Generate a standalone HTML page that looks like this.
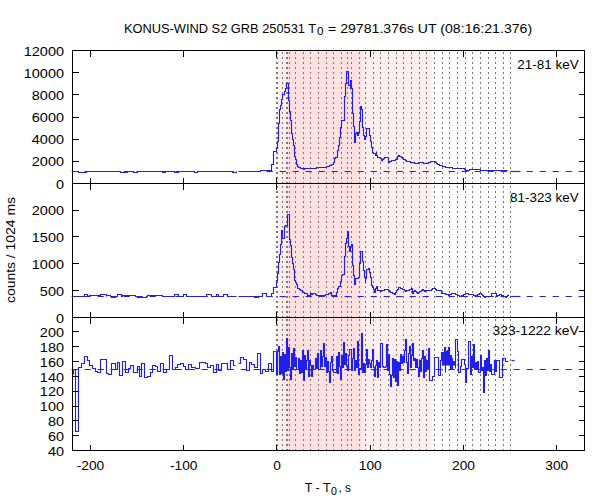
<!DOCTYPE html><html><head><meta charset="utf-8"><style>html,body{margin:0;padding:0;background:#fff;}svg{display:block}text{font-family:"Liberation Sans",sans-serif;fill:#000}</style></head><body>
<svg width="600" height="500" viewBox="0 0 600 500">
<rect x="0" y="0" width="600" height="500" fill="#fff"/>
<rect x="278" y="51" width="154" height="399" fill="#ffeeee"/>
<rect x="287" y="51" width="75" height="399" fill="#ffe0e0"/>
<path d="M276.5 52V183M276.5 186V317M276.5 319V450M277.5 52V183M277.5 186V317M277.5 319V450M282.5 52V183M282.5 186V317M282.5 319V450M286.5 52V183M286.5 186V317M286.5 319V450M287.5 52V183M287.5 186V317M287.5 319V450M289.5 52V183M289.5 186V317M289.5 319V450M295.5 52V183M295.5 186V317M295.5 319V450M303.5 52V183M303.5 186V317M303.5 319V450M310.5 52V183M310.5 186V317M310.5 319V450M318.5 52V183M318.5 186V317M318.5 319V450M326.5 52V183M326.5 186V317M326.5 319V450M333.5 52V183M333.5 186V317M333.5 319V450M341.5 52V183M341.5 186V317M341.5 319V450M347.5 52V183M347.5 186V317M347.5 319V450M351.5 52V183M351.5 186V317M351.5 319V450M359.5 52V183M359.5 186V317M359.5 319V450M365.5 52V183M365.5 186V317M365.5 319V450M373.5 52V183M373.5 186V317M373.5 319V450M380.5 52V183M380.5 186V317M380.5 319V450M388.5 52V183M388.5 186V317M388.5 319V450M396.5 52V183M396.5 186V317M396.5 319V450M403.5 52V183M403.5 186V317M403.5 319V450M411.5 52V183M411.5 186V317M411.5 319V450M419.5 52V183M419.5 186V317M419.5 319V450M426.5 52V183M426.5 186V317M426.5 319V450M434.5 52V183M434.5 186V317M434.5 319V450M442.5 52V183M442.5 186V317M442.5 319V450M449.5 52V183M449.5 186V317M449.5 319V450M457.5 52V183M457.5 186V317M457.5 319V450M465.5 52V183M465.5 186V317M465.5 319V450M472.5 52V183M472.5 186V317M472.5 319V450M480.5 52V183M480.5 186V317M480.5 319V450M488.5 52V183M488.5 186V317M488.5 319V450M495.5 52V183M495.5 186V317M495.5 319V450M503.5 52V183M503.5 186V317M503.5 319V450M510.5 52V183M510.5 186V317M510.5 319V450" stroke="#777777" stroke-width="1" stroke-dasharray="2 3" fill="none" shape-rendering="crispEdges"/>
<path d="M72.5 171.5 L78.5 171.5 L78.5 172.5 L86.5 172.5 L86.5 171.5 L120.5 171.5 L120.5 172.5 L127.5 172.5 L127.5 171.5 L133.5 171.5 L133.5 172.5 L137.5 172.5 L137.5 171.5 L162.5 171.5 L162.5 172.5 L165.5 172.5 L165.5 171.5 L174.5 171.5 L174.5 172.5 L178.5 172.5 L178.5 171.5 L194.5 171.5 L194.5 172.5 L197.5 172.5 L197.5 171.5 L232.5 171.5 L232.5 172.5 L236.5 172.5 L236.5 171.5 L236.5 171.5" fill="none" stroke="#2020e8" stroke-width="1.15" stroke-linejoin="miter"/>
<path d="M238.5 171.5 L260.5 171.5 L260.5 170.5 L268.5 170.5 L270.5 170.5 L270.5 171.5 L271.5 171.5 L271.5 164.5 L273.5 164.5 L273.5 151.5 L276.5 151.5 L276.5 148.5 L277.5 148.5 L277.5 141.5 L278.5 141.5 L278.5 132.5 L278.5 132.5 L278.5 123.5 L279.5 123.5 L279.5 109.5 L280.5 109.5 L280.5 105.5 L281.5 105.5 L281.5 99.5 L282.5 99.5 L282.5 94.5 L284.5 94.5 L284.5 95.5 L284.5 95.5 L284.5 91.5 L285.5 91.5 L285.5 88.5 L286.5 88.5 L286.5 85.5 L286.5 85.5 L286.5 83.5 L288.5 83.5 L288.5 100.5 L289.5 100.5 L289.5 111.5 L290.5 111.5 L290.5 120.5 L291.5 120.5 L291.5 133.5 L292.5 133.5 L292.5 139.5 L293.5 139.5 L293.5 145.5 L294.5 145.5 L294.5 156.5 L295.5 156.5 L295.5 159.5 L296.5 159.5 L296.5 162.5 L296.5 162.5 L296.5 164.5 L297.5 164.5 L297.5 166.5 L298.5 166.5 L298.5 167.5 L300.5 167.5 L300.5 168.5 L301.5 168.5 L301.5 168.5 L302.5 168.5 L302.5 168.5 L303.5 168.5 L303.5 169.5 L304.5 169.5 L304.5 168.5 L305.5 168.5 L305.5 168.5 L306.5 168.5 L306.5 168.5 L307.5 168.5 L307.5 168.5 L308.5 168.5 L308.5 168.5 L310.5 168.5 L311.5 168.5 L311.5 168.5 L312.5 168.5 L312.5 168.5 L313.5 168.5 L313.5 168.5 L314.5 168.5 L314.5 168.5 L315.5 168.5 L315.5 168.5 L316.5 168.5 L316.5 167.5 L317.5 167.5 L317.5 167.5 L318.5 167.5 L318.5 167.5 L319.5 167.5 L319.5 167.5 L320.5 167.5 L320.5 167.5 L321.5 167.5 L321.5 167.5 L322.5 167.5 L322.5 167.5 L323.5 167.5 L323.5 167.5 L324.5 167.5 L324.5 167.5 L325.5 167.5 L325.5 167.5 L326.5 167.5 L326.5 166.5 L327.5 166.5 L327.5 166.5 L328.5 166.5 L328.5 166.5 L329.5 166.5 L329.5 165.5 L330.5 165.5 L330.5 165.5 L331.5 165.5 L331.5 164.5 L332.5 164.5 L332.5 164.5 L333.5 164.5 L333.5 162.5 L334.5 162.5 L334.5 158.5 L335.5 158.5 L335.5 157.5 L336.5 157.5 L336.5 157.5 L337.5 157.5 L337.5 156.5 L337.5 156.5 L337.5 150.5 L338.5 150.5 L338.5 145.5 L339.5 145.5 L339.5 137.5 L340.5 137.5 L340.5 127.5 L341.5 127.5 L341.5 120.5 L342.5 120.5 L342.5 120.5 L343.5 120.5 L343.5 120.5 L344.5 120.5 L344.5 120.5 L344.5 96.5 L345.5 96.5 L345.5 83.5 L346.5 83.5 L346.5 71.5 L348.5 71.5 L348.5 85.5 L349.5 85.5 L349.5 85.5 L350.5 85.5 L350.5 89.5 L350.5 89.5 L350.5 80.5 L351.5 80.5 L351.5 88.5 L352.5 88.5 L352.5 113.5 L353.5 113.5 L353.5 126.5 L354.5 126.5 L354.5 142.5 L355.5 142.5 L355.5 133.5 L356.5 133.5 L356.5 132.5 L357.5 132.5 L357.5 132.5 L357.5 132.5 L357.5 135.5 L358.5 135.5 L358.5 132.5 L359.5 132.5 L359.5 121.5 L360.5 121.5 L360.5 106.5 L361.5 106.5 L361.5 109.5 L362.5 109.5 L362.5 127.5 L363.5 127.5 L363.5 135.5 L364.5 135.5 L364.5 139.5 L365.5 139.5 L365.5 136.5 L366.5 136.5 L366.5 128.5 L368.5 128.5 L369.5 128.5 L369.5 131.5 L369.5 131.5 L369.5 135.5 L370.5 135.5 L370.5 141.5 L371.5 141.5 L371.5 147.5 L372.5 147.5 L372.5 152.5 L373.5 152.5 L373.5 153.5 L374.5 153.5 L374.5 153.5 L375.5 153.5 L375.5 155.5 L376.5 155.5 L376.5 151.5 L376.5 151.5 L376.5 155.5 L377.5 155.5 L377.5 157.5 L378.5 157.5 L378.5 157.5 L380.5 157.5 L380.5 158.5 L381.5 158.5 L381.5 160.5 L382.5 160.5 L382.5 161.5 L382.5 161.5 L382.5 159.5 L383.5 159.5 L383.5 158.5 L384.5 158.5 L384.5 157.5 L386.5 157.5 L386.5 157.5 L388.5 157.5 L388.5 157.5 L388.5 162.5 L389.5 162.5 L389.5 161.5 L390.5 161.5 L390.5 161.5 L391.5 161.5 L391.5 160.5 L393.5 160.5 L393.5 160.5 L394.5 160.5 L394.5 160.5 L395.5 160.5 L395.5 159.5 L396.5 159.5 L396.5 159.5 L397.5 159.5 L397.5 156.5 L398.5 156.5 L398.5 155.5 L399.5 155.5 L399.5 156.5 L400.5 156.5 L400.5 156.5 L401.5 156.5 L401.5 157.5 L402.5 157.5 L402.5 158.5 L403.5 158.5 L403.5 159.5 L404.5 159.5 L404.5 159.5 L405.5 159.5 L405.5 160.5 L406.5 160.5 L406.5 161.5 L407.5 161.5 L407.5 161.5 L408.5 161.5 L408.5 161.5 L409.5 161.5 L409.5 161.5 L410.5 161.5 L410.5 162.5 L411.5 162.5 L411.5 162.5 L412.5 162.5 L412.5 162.5 L413.5 162.5 L413.5 162.5 L414.5 162.5 L414.5 163.5 L415.5 163.5 L415.5 163.5 L416.5 163.5 L416.5 163.5 L417.5 163.5 L417.5 163.5 L418.5 163.5 L418.5 162.5 L419.5 162.5 L419.5 162.5 L420.5 162.5 L420.5 162.5 L421.5 162.5 L421.5 162.5 L422.5 162.5 L422.5 162.5 L423.5 162.5 L423.5 163.5 L424.5 163.5 L424.5 163.5 L425.5 163.5 L425.5 163.5 L426.5 163.5 L426.5 163.5 L427.5 163.5 L427.5 163.5 L428.5 163.5 L428.5 162.5 L429.5 162.5 L429.5 162.5 L430.5 162.5 L430.5 161.5 L434.5 161.5 L435.5 161.5 L435.5 162.5 L436.5 162.5 L436.5 163.5 L437.5 163.5 L437.5 164.5 L438.5 164.5 L438.5 164.5 L439.5 164.5 L439.5 165.5 L440.5 165.5 L440.5 165.5 L441.5 165.5 L441.5 165.5 L442.5 165.5 L442.5 166.5 L443.5 166.5 L443.5 166.5 L444.5 166.5 L444.5 166.5 L445.5 166.5 L445.5 167.5 L446.5 167.5 L446.5 167.5 L447.5 167.5 L447.5 167.5 L448.5 167.5 L448.5 167.5 L449.5 167.5 L449.5 167.5 L450.5 167.5 L450.5 167.5 L451.5 167.5 L451.5 167.5 L452.5 167.5 L452.5 168.5 L453.5 168.5 L453.5 168.5 L454.5 168.5 L454.5 168.5 L455.5 168.5 L455.5 168.5 L456.5 168.5 L456.5 168.5 L457.5 168.5 L457.5 168.5 L458.5 168.5 L458.5 168.5 L459.5 168.5 L459.5 168.5 L460.5 168.5 L460.5 168.5 L461.5 168.5 L461.5 168.5 L462.5 168.5 L462.5 168.5 L463.5 168.5 L463.5 168.5 L464.5 168.5 L464.5 169.5 L465.5 169.5 L465.5 170.5 L466.5 170.5 L466.5 171.5 L467.5 171.5 L467.5 170.5 L468.5 170.5 L468.5 170.5 L469.5 170.5 L469.5 169.5 L470.5 169.5 L470.5 169.5 L471.5 169.5 L471.5 169.5 L472.5 169.5 L472.5 169.5 L473.5 169.5 L473.5 169.5 L474.5 169.5 L474.5 169.5 L475.5 169.5 L475.5 169.5 L476.5 169.5 L476.5 169.5 L477.5 169.5 L477.5 169.5 L478.5 169.5 L478.5 169.5 L479.5 169.5 L479.5 169.5 L480.5 169.5 L480.5 170.5 L481.5 170.5 L481.5 170.5 L482.5 170.5 L482.5 170.5 L483.5 170.5 L483.5 170.5 L484.5 170.5 L484.5 170.5 L485.5 170.5 L485.5 170.5 L486.5 170.5 L486.5 170.5 L487.5 170.5 L487.5 170.5 L488.5 170.5 L488.5 170.5 L489.5 170.5 L489.5 170.5 L490.5 170.5 L490.5 170.5 L507.5 170.5" fill="none" stroke="#2020e8" stroke-width="1.15" stroke-linejoin="miter"/>
<path d="M510.5 171.5 L520.5 171.5" fill="none" stroke="#2020e8" stroke-width="1.15" stroke-linejoin="miter"/>
<path d="M72.5 296.5 L84.5 296.5 L84.5 294.5 L87.5 294.5 L87.5 296.5 L89.5 296.5 L89.5 295.5 L100.5 295.5 L100.5 296.5 L100.5 296.5 L100.5 294.5 L106.5 294.5 L106.5 296.5 L106.5 296.5 L106.5 295.5 L110.5 295.5 L110.5 296.5 L111.5 296.5 L111.5 297.5 L115.5 297.5 L115.5 296.5 L117.5 296.5 L117.5 294.5 L121.5 294.5 L121.5 296.5 L122.5 296.5 L122.5 295.5 L135.5 295.5 L135.5 296.5 L137.5 296.5 L137.5 297.5 L146.5 297.5 L146.5 296.5 L147.5 296.5 L147.5 295.5 L162.5 295.5 L162.5 296.5 L174.5 296.5 L174.5 294.5 L178.5 294.5 L178.5 296.5 L183.5 296.5 L183.5 294.5 L186.5 294.5 L186.5 296.5 L206.5 296.5 L206.5 294.5 L211.5 294.5 L211.5 296.5 L216.5 296.5 L216.5 294.5 L218.5 294.5 L218.5 296.5 L223.5 296.5 L223.5 294.5 L227.5 294.5 L227.5 296.5 L236.5 296.5" fill="none" stroke="#2020e8" stroke-width="1.15" stroke-linejoin="miter"/>
<path d="M238.5 296.5 L254.5 296.5 L254.5 297.5 L258.5 297.5 L258.5 296.5 L262.5 296.5 L262.5 293.5 L266.5 293.5 L266.5 296.5 L266.5 296.5" fill="none" stroke="#2020e8" stroke-width="1.15" stroke-linejoin="miter"/>
<path d="M266.5 296.5 L271.5 296.5 L271.5 293.5 L273.5 293.5 L273.5 287.5 L276.5 287.5 L276.5 280.5 L277.5 280.5 L277.5 273.5 L278.5 273.5 L278.5 262.5 L279.5 262.5 L279.5 254.5 L280.5 254.5 L280.5 245.5 L280.5 244.5 L281.5 244.5 L281.5 244.5 L281.5 241.5 L281.5 241.5 L281.5 230.5 L282.5 230.5 L282.5 238.5 L283.5 238.5 L284.5 238.5 L284.5 226.5 L285.5 226.5 L285.5 225.5 L286.5 225.5 L286.5 225.5 L287.5 225.5 L287.5 224.5 L287.5 224.5 L287.5 214.5 L288.5 214.5 L289.5 214.5 L289.5 239.5 L289.5 239.5 L289.5 239.5 L290.5 239.5 L290.5 239.5 L290.5 245.5 L291.5 245.5 L291.5 257.5 L292.5 257.5 L292.5 263.5 L293.5 263.5 L293.5 269.5 L294.5 269.5 L294.5 280.5 L295.5 280.5 L295.5 282.5 L296.5 282.5 L296.5 284.5 L297.5 284.5 L297.5 288.5 L298.5 288.5 L298.5 288.5 L299.5 288.5 L299.5 289.5 L300.5 289.5 L300.5 290.5 L301.5 290.5 L301.5 290.5 L302.5 290.5 L302.5 292.5 L303.5 292.5 L303.5 292.5 L304.5 292.5 L304.5 293.5 L305.5 293.5 L305.5 293.5 L307.5 293.5 L307.5 295.5 L310.5 295.5 L310.5 293.5 L311.5 293.5 L311.5 294.5 L312.5 294.5 L312.5 293.5 L313.5 293.5 L313.5 293.5 L315.5 293.5 L315.5 293.5 L315.5 293.5 L315.5 294.5 L316.5 294.5 L316.5 295.5 L318.5 295.5 L318.5 295.5 L325.5 295.5 L325.5 295.5 L325.5 294.5 L327.5 294.5 L327.5 294.5 L328.5 294.5 L328.5 293.5 L329.5 293.5 L329.5 293.5 L330.5 293.5 L330.5 292.5 L330.5 292.5 L330.5 292.5 L331.5 292.5 L331.5 293.5 L331.5 295.5 L336.5 295.5 L336.5 292.5 L337.5 292.5 L337.5 288.5 L338.5 288.5 L338.5 286.5 L340.5 286.5 L340.5 285.5 L340.5 285.5 L340.5 281.5 L341.5 281.5 L341.5 275.5 L342.5 275.5 L342.5 274.5 L343.5 274.5 L343.5 274.5 L344.5 274.5 L344.5 256.5 L345.5 256.5 L345.5 243.5 L346.5 243.5 L346.5 238.5 L347.5 238.5 L347.5 231.5 L348.5 231.5 L348.5 246.5 L349.5 246.5 L349.5 251.5 L350.5 251.5 L350.5 246.5 L351.5 246.5 L351.5 244.5 L352.5 244.5 L352.5 265.5 L353.5 265.5 L353.5 275.5 L354.5 275.5 L354.5 275.5 L354.5 284.5 L355.5 284.5 L355.5 278.5 L356.5 278.5 L356.5 278.5 L357.5 278.5 L357.5 278.5 L358.5 278.5 L358.5 277.5 L359.5 277.5 L359.5 277.5 L359.5 277.5 L359.5 263.5 L360.5 263.5 L360.5 251.5 L362.5 251.5 L362.5 261.5 L363.5 261.5 L363.5 270.5 L364.5 270.5 L364.5 277.5 L365.5 277.5 L365.5 283.5 L365.5 283.5 L365.5 278.5 L366.5 278.5 L366.5 269.5 L367.5 269.5 L367.5 269.5 L368.5 269.5 L368.5 268.5 L369.5 268.5 L369.5 272.5 L370.5 272.5 L370.5 277.5 L371.5 277.5 L371.5 285.5 L372.5 285.5 L372.5 287.5 L373.5 287.5 L373.5 289.5 L374.5 289.5 L374.5 292.5 L375.5 292.5 L375.5 290.5 L375.5 290.5 L375.5 288.5 L376.5 288.5 L376.5 286.5 L377.5 286.5 L377.5 290.5 L378.5 290.5 L378.5 290.5 L379.5 290.5 L379.5 290.5 L380.5 290.5 L380.5 291.5 L381.5 291.5 L381.5 290.5 L382.5 290.5 L382.5 290.5 L383.5 290.5 L383.5 290.5 L384.5 290.5 L384.5 289.5 L385.5 289.5 L385.5 289.5 L386.5 289.5 L386.5 289.5 L387.5 289.5 L387.5 289.5 L388.5 289.5 L388.5 290.5 L389.5 290.5 L389.5 291.5 L390.5 291.5 L390.5 292.5 L391.5 292.5 L391.5 292.5 L392.5 292.5 L392.5 293.5 L393.5 293.5 L393.5 293.5 L394.5 293.5 L394.5 294.5 L395.5 294.5 L395.5 292.5 L396.5 292.5 L396.5 290.5 L397.5 290.5 L397.5 289.5 L398.5 289.5 L398.5 287.5 L399.5 287.5 L399.5 287.5 L400.5 287.5 L400.5 288.5 L401.5 288.5 L401.5 288.5 L402.5 288.5 L402.5 289.5 L403.5 289.5 L403.5 289.5 L404.5 289.5 L404.5 290.5 L405.5 290.5 L405.5 291.5 L405.5 291.5 L405.5 291.5 L406.5 291.5 L406.5 290.5 L407.5 290.5 L407.5 290.5 L408.5 290.5 L408.5 290.5 L409.5 290.5 L409.5 289.5 L411.5 289.5 L411.5 288.5 L412.5 288.5 L412.5 293.5 L413.5 293.5 L413.5 291.5 L414.5 291.5 L414.5 290.5 L415.5 290.5 L415.5 291.5 L416.5 291.5 L416.5 292.5 L417.5 292.5 L417.5 293.5 L418.5 293.5 L418.5 292.5 L419.5 292.5 L419.5 291.5 L420.5 291.5 L420.5 291.5 L421.5 291.5 L421.5 290.5 L422.5 290.5 L422.5 289.5 L423.5 289.5 L423.5 290.5 L424.5 290.5 L424.5 291.5 L425.5 291.5 L425.5 290.5 L426.5 290.5 L426.5 290.5 L427.5 290.5 L427.5 290.5 L428.5 290.5 L428.5 290.5 L429.5 290.5 L429.5 290.5 L430.5 290.5 L430.5 290.5 L431.5 290.5 L431.5 289.5 L432.5 289.5 L432.5 288.5 L433.5 288.5 L433.5 288.5 L434.5 288.5 L434.5 288.5 L435.5 288.5 L435.5 289.5 L436.5 289.5 L436.5 290.5 L437.5 290.5 L437.5 290.5 L438.5 290.5 L438.5 290.5 L439.5 290.5 L439.5 290.5 L440.5 290.5 L440.5 290.5 L441.5 290.5 L441.5 293.5 L442.5 293.5 L442.5 293.5 L443.5 293.5 L443.5 293.5 L444.5 293.5 L444.5 293.5 L445.5 293.5 L445.5 294.5 L446.5 294.5 L446.5 294.5 L447.5 294.5 L447.5 294.5 L448.5 294.5 L448.5 295.5 L449.5 295.5 L449.5 294.5 L450.5 294.5 L450.5 294.5 L451.5 294.5 L451.5 293.5 L452.5 293.5 L452.5 293.5 L453.5 293.5 L453.5 293.5 L454.5 293.5 L454.5 293.5 L455.5 293.5 L455.5 294.5 L456.5 294.5 L456.5 294.5 L457.5 294.5 L457.5 295.5 L458.5 295.5 L458.5 295.5 L459.5 295.5 L459.5 296.5 L460.5 296.5 L460.5 296.5 L461.5 296.5 L461.5 295.5 L462.5 295.5 L462.5 295.5 L463.5 295.5 L463.5 294.5 L464.5 294.5 L464.5 294.5 L465.5 294.5 L465.5 293.5 L466.5 293.5 L466.5 293.5 L467.5 293.5 L467.5 293.5 L468.5 293.5 L468.5 294.5 L469.5 294.5 L469.5 294.5 L470.5 294.5 L470.5 294.5 L471.5 294.5 L471.5 294.5 L472.5 294.5 L472.5 294.5 L473.5 294.5 L473.5 295.5 L474.5 295.5 L474.5 295.5 L475.5 295.5 L475.5 295.5 L476.5 295.5 L476.5 295.5 L477.5 295.5 L477.5 294.5 L478.5 294.5 L478.5 294.5 L479.5 294.5 L479.5 293.5 L480.5 293.5 L480.5 293.5 L481.5 293.5 L481.5 294.5 L482.5 294.5 L482.5 295.5 L483.5 295.5 L483.5 296.5 L484.5 296.5 L484.5 297.5 L485.5 297.5 L485.5 296.5 L486.5 296.5 L486.5 296.5 L487.5 296.5 L487.5 296.5 L488.5 296.5 L488.5 296.5 L489.5 296.5 L489.5 296.5 L490.5 296.5 L490.5 296.5 L491.5 296.5 L491.5 293.5 L496.5 293.5 L496.5 296.5 L497.5 296.5 L497.5 295.5 L498.5 295.5 L498.5 295.5 L499.5 295.5 L499.5 294.5 L500.5 294.5 L500.5 294.5 L501.5 294.5 L501.5 295.5 L502.5 295.5 L502.5 295.5 L503.5 295.5 L503.5 296.5 L504.5 296.5 L504.5 296.5 L505.5 296.5 L505.5 297.5 L506.5 297.5 L506.5 296.5 L507.5 296.5 L507.5 295.5 L508.5 295.5 L508.5 294.5" fill="none" stroke="#2020e8" stroke-width="1.15" stroke-linejoin="miter"/>
<path d="M510.5 296.5 L520.5 296.5" fill="none" stroke="#2020e8" stroke-width="1.15" stroke-linejoin="miter"/>
<path d="M73.5 374.5 L73.5 369.5 L75.5 369.5 L75.5 431.5 L78.5 431.5 L78.5 367.5 L81.5 367.5 L81.5 363.5 L84.5 363.5 L84.5 356.5 L87.5 356.5 L87.5 360.5 L89.5 360.5 L89.5 365.5 L92.5 365.5 L92.5 368.5 L95.5 368.5 L95.5 371.5 L97.5 371.5 L97.5 372.5 L100.5 372.5 L100.5 359.5 L106.5 359.5 L106.5 373.5 L108.5 373.5 L108.5 374.5 L111.5 374.5 L111.5 363.5 L115.5 363.5 L115.5 369.5 L117.5 369.5 L117.5 362.5 L119.5 362.5 L119.5 375.5 L122.5 375.5 L122.5 361.5 L125.5 361.5 L125.5 372.5 L128.5 372.5 L128.5 368.5 L130.5 368.5 L130.5 365.5 L133.5 365.5 L133.5 372.5 L137.5 372.5 L137.5 366.5 L139.5 366.5 L139.5 376.5 L141.5 376.5 L141.5 363.5 L144.5 363.5 L144.5 377.5 L147.5 377.5 L147.5 376.5 L150.5 376.5 L150.5 372.5 L152.5 372.5 L152.5 365.5 L155.5 365.5 L155.5 366.5 L157.5 366.5 L157.5 371.5 L160.5 371.5 L160.5 363.5 L163.5 363.5 L163.5 372.5 L166.5 372.5 L166.5 369.5 L169.5 369.5 L169.5 355.5 L172.5 355.5 L172.5 369.5 L175.5 369.5 L175.5 367.5 L177.5 367.5 L177.5 364.5 L180.5 364.5 L180.5 363.5 L183.5 363.5 L183.5 366.5 L185.5 366.5 L185.5 369.5 L188.5 369.5 L188.5 364.5 L191.5 364.5 L191.5 367.5 L195.5 367.5 L195.5 368.5 L199.5 368.5 L199.5 362.5 L205.5 362.5 L205.5 363.5 L207.5 363.5 L207.5 367.5 L210.5 367.5 L210.5 365.5 L213.5 365.5 L213.5 372.5 L216.5 372.5 L216.5 364.5 L218.5 364.5 L218.5 370.5 L221.5 370.5 L221.5 363.5 L227.5 363.5 L227.5 369.5 L230.5 369.5 L230.5 360.5 L233.5 360.5 L233.5 365.5 L235.5 365.5" fill="none" stroke="#2020e8" stroke-width="1.15" stroke-linejoin="miter"/>
<path d="M238.5 363.5 L240.5 363.5 L240.5 357.5 L243.5 357.5 L243.5 359.5 L246.5 359.5 L246.5 370.5 L249.5 370.5 L249.5 362.5 L251.5 362.5 L251.5 364.5 L254.5 364.5 L254.5 367.5 L257.5 367.5 L257.5 353.5 L260.5 353.5 L260.5 373.5 L262.5 373.5 L262.5 369.5 L265.5 369.5 L265.5 371.5 L268.5 371.5 L268.5 363.5 L271.5 363.5 L271.5 371.5 L273.5 371.5 L273.5 351.5 L276.5 351.5" fill="none" stroke="#2020e8" stroke-width="1.15" stroke-linejoin="miter"/>
<path d="M276.5 351.5 L276.5 374.5 L277.5 374.5 L277.5 351.5 L278.5 351.5 L278.5 346.5 L279.5 346.5 L279.5 374.5 L280.5 374.5 L280.5 356.5 L281.5 356.5 L281.5 373.5 L282.5 373.5 L282.5 352.5 L283.5 352.5 L283.5 379.5 L284.5 379.5 L284.5 354.5 L285.5 354.5 L285.5 371.5 L286.5 371.5 L286.5 338.5 L287.5 338.5 L287.5 370.5 L288.5 370.5 L288.5 347.5 L289.5 347.5 L289.5 367.5 L290.5 367.5 L290.5 379.5 L291.5 379.5 L291.5 353.5 L292.5 353.5 L292.5 369.5 L293.5 369.5 L293.5 348.5 L294.5 348.5 L294.5 366.5 L295.5 366.5 L295.5 357.5 L296.5 357.5 L296.5 369.5 L298.5 369.5 L298.5 358.5 L299.5 358.5 L299.5 373.5 L300.5 373.5 L300.5 360.5 L301.5 360.5 L301.5 372.5 L302.5 372.5 L302.5 350.5 L303.5 350.5 L303.5 380.5 L304.5 380.5 L304.5 355.5 L305.5 355.5 L305.5 369.5 L306.5 369.5 L306.5 360.5 L307.5 360.5 L307.5 350.5 L308.5 350.5 L308.5 376.5 L309.5 376.5 L309.5 360.5 L310.5 360.5 L310.5 365.5 L311.5 365.5 L311.5 376.5 L312.5 376.5 L312.5 365.5 L313.5 365.5 L313.5 369.5 L315.5 369.5 L315.5 358.5 L316.5 358.5 L316.5 368.5 L317.5 368.5 L317.5 353.5 L318.5 353.5 L318.5 369.5 L320.5 369.5 L320.5 350.5 L321.5 350.5 L321.5 366.5 L322.5 366.5 L322.5 356.5 L323.5 356.5 L323.5 343.5 L324.5 343.5 L324.5 366.5 L325.5 366.5 L325.5 357.5 L326.5 357.5 L326.5 372.5 L327.5 372.5 L327.5 361.5 L328.5 361.5 L328.5 371.5 L329.5 371.5 L329.5 382.5 L330.5 382.5 L330.5 362.5 L331.5 362.5 L331.5 356.5 L332.5 356.5 L332.5 370.5 L333.5 370.5 L333.5 372.5 L336.5 372.5 L336.5 356.5 L337.5 356.5 L337.5 373.5 L338.5 373.5 L338.5 352.5 L339.5 352.5 L339.5 366.5 L340.5 366.5 L340.5 379.5 L341.5 379.5 L341.5 355.5 L342.5 355.5 L342.5 367.5 L343.5 367.5 L343.5 342.5 L344.5 342.5 L344.5 364.5 L345.5 364.5 L345.5 353.5 L346.5 353.5 L346.5 366.5 L347.5 366.5 L347.5 370.5 L348.5 370.5 L348.5 355.5 L349.5 355.5 L349.5 349.5 L351.5 349.5 L351.5 370.5 L352.5 370.5 L352.5 358.5 L353.5 358.5 L353.5 348.5 L354.5 348.5 L354.5 370.5 L355.5 370.5 L355.5 360.5 L356.5 360.5 L356.5 367.5 L357.5 367.5 L357.5 341.5 L358.5 341.5 L358.5 374.5 L359.5 374.5 L359.5 368.5 L361.5 368.5 L361.5 333.5 L362.5 333.5 L362.5 372.5 L363.5 372.5 L363.5 363.5 L364.5 363.5 L364.5 372.5 L365.5 372.5 L365.5 364.5 L366.5 364.5 L366.5 349.5 L367.5 349.5 L367.5 367.5 L368.5 367.5 L368.5 359.5 L369.5 359.5 L369.5 363.5 L370.5 363.5 L370.5 367.5 L371.5 367.5 L371.5 360.5 L372.5 360.5 L372.5 349.5 L373.5 349.5 L373.5 367.5 L374.5 367.5 L374.5 376.5 L375.5 376.5 L375.5 365.5 L376.5 365.5 L376.5 360.5 L377.5 360.5 L377.5 377.5 L378.5 377.5 L378.5 362.5 L379.5 362.5 L379.5 367.5 L380.5 367.5 L380.5 343.5 L382.5 343.5 L382.5 366.5 L383.5 366.5 L383.5 367.5 L385.5 367.5 L385.5 366.5 L386.5 366.5 L386.5 344.5 L387.5 344.5 L387.5 370.5 L388.5 370.5 L388.5 354.5 L389.5 354.5 L389.5 374.5 L390.5 374.5 L390.5 386.5 L391.5 386.5 L391.5 375.5 L392.5 375.5 L392.5 358.5 L393.5 358.5 L393.5 377.5 L394.5 377.5 L394.5 359.5 L395.5 359.5 L395.5 381.5 L396.5 381.5 L396.5 361.5 L397.5 361.5 L397.5 385.5 L398.5 385.5 L398.5 362.5 L399.5 362.5 L399.5 370.5 L400.5 370.5 L400.5 354.5 L401.5 354.5 L401.5 363.5 L402.5 363.5 L402.5 356.5 L403.5 356.5 L403.5 362.5 L404.5 362.5 L404.5 350.5 L405.5 350.5 L405.5 339.5 L406.5 339.5 L406.5 362.5 L407.5 362.5 L407.5 373.5 L408.5 373.5 L408.5 353.5 L409.5 353.5 L409.5 346.5 L410.5 346.5 L410.5 367.5 L411.5 367.5 L411.5 355.5 L412.5 355.5 L412.5 343.5 L413.5 343.5 L413.5 360.5 L414.5 360.5 L414.5 358.5 L415.5 358.5 L415.5 367.5 L416.5 367.5 L416.5 359.5 L417.5 359.5 L417.5 367.5 L418.5 367.5 L418.5 376.5 L419.5 376.5 L419.5 360.5 L420.5 360.5 L420.5 371.5 L421.5 371.5 L421.5 358.5 L422.5 358.5 L422.5 350.5 L423.5 350.5 L423.5 377.5 L424.5 377.5 L424.5 356.5 L425.5 356.5 L425.5 371.5 L426.5 371.5 L426.5 360.5 L427.5 360.5 L427.5 368.5 L428.5 368.5 L428.5 348.5 L429.5 348.5 L429.5 380.5 L430.5 380.5 L430.5 380.5 L432.5 380.5 L432.5 376.5 L434.5 376.5 L434.5 366.5 L434.5 366.5 L434.5 357.5 L438.5 357.5 L438.5 375.5 L440.5 375.5 L440.5 360.5 L441.5 360.5 L441.5 352.5 L442.5 352.5 L442.5 365.5 L442.5 365.5 L442.5 352.5 L443.5 352.5 L443.5 365.5 L443.5 365.5 L443.5 352.5 L444.5 352.5 L444.5 365.5 L444.5 365.5 L444.5 347.5 L445.5 347.5 L445.5 372.5 L445.5 372.5 L445.5 351.5 L446.5 351.5 L446.5 365.5 L446.5 365.5 L446.5 351.5 L447.5 351.5 L447.5 365.5 L447.5 365.5 L447.5 350.5 L448.5 350.5 L448.5 365.5 L448.5 365.5 L448.5 347.5 L449.5 347.5 L449.5 365.5 L449.5 365.5 L449.5 355.5 L450.5 355.5 L450.5 369.5 L450.5 369.5 L450.5 355.5 L451.5 355.5 L451.5 369.5 L451.5 369.5 L451.5 358.5 L452.5 358.5 L452.5 369.5 L452.5 369.5 L452.5 361.5 L453.5 361.5 L453.5 365.5 L453.5 365.5 L453.5 361.5 L454.5 361.5 L454.5 365.5 L454.5 365.5 L454.5 361.5 L455.5 361.5 L455.5 368.5 L455.5 368.5 L455.5 339.5 L457.5 339.5 L457.5 351.5 L458.5 351.5 L458.5 372.5 L460.5 372.5 L460.5 366.5 L461.5 366.5 L461.5 359.5 L464.5 359.5 L464.5 364.5 L465.5 364.5 L465.5 382.5 L466.5 382.5 L466.5 368.5 L468.5 368.5 L468.5 341.5 L470.5 341.5 L470.5 374.5 L471.5 374.5 L471.5 356.5 L472.5 356.5 L472.5 367.5 L473.5 367.5 L473.5 344.5 L474.5 344.5 L474.5 369.5 L475.5 369.5 L475.5 362.5 L476.5 362.5 L476.5 368.5 L477.5 368.5 L477.5 361.5 L478.5 361.5 L478.5 372.5 L480.5 372.5 L480.5 355.5 L481.5 355.5 L481.5 370.5 L482.5 370.5 L482.5 367.5 L483.5 367.5 L483.5 392.5 L484.5 392.5 L484.5 360.5 L485.5 360.5 L485.5 375.5 L486.5 375.5 L486.5 358.5 L487.5 358.5 L487.5 370.5 L488.5 370.5 L488.5 350.5 L489.5 350.5 L489.5 371.5 L490.5 371.5 L490.5 364.5 L491.5 364.5 L491.5 374.5 L494.5 374.5 L494.5 360.5 L495.5 360.5 L495.5 371.5 L496.5 371.5 L496.5 360.5 L499.5 360.5 L499.5 377.5 L502.5 377.5 L502.5 358.5 L505.5 358.5 L505.5 361.5 L508.5 361.5" fill="none" stroke="#2020e8" stroke-width="1.15" stroke-linejoin="miter"/>
<path d="M511.5 360.5 L514.5 360.5" fill="none" stroke="#2020e8" stroke-width="1.15" stroke-linejoin="miter"/>
<path d="M71.6 171.5H584" stroke="#2020e8" stroke-width="1.0" stroke-dasharray="6.2 6.8" fill="none"/>
<path d="M71.6 296.5H584" stroke="#2020e8" stroke-width="1.0" stroke-dasharray="6.2 6.8" fill="none"/>
<path d="M71.6 369.5H584" stroke="#2020e8" stroke-width="1.0" stroke-dasharray="6.2 6.8" fill="none"/>
<g stroke="#000" stroke-width="1" fill="none" shape-rendering="crispEdges">
<path d="M72.5 50.5H584.5V450.5H72.5Z M72.5 183.5H584.5 M72.5 317.5H584.5"/>
<path d="M90.5 183.5V177.5 M90.5 50.5V56.5 M90.5 317.5V311.5 M90.5 183.5V189.5 M90.5 450.5V444.5 M90.5 317.5V323.5 M183.5 183.5V177.5 M183.5 50.5V56.5 M183.5 317.5V311.5 M183.5 183.5V189.5 M183.5 450.5V444.5 M183.5 317.5V323.5 M276.5 183.5V177.5 M276.5 50.5V56.5 M276.5 317.5V311.5 M276.5 183.5V189.5 M276.5 450.5V444.5 M276.5 317.5V323.5 M370.5 183.5V177.5 M370.5 50.5V56.5 M370.5 317.5V311.5 M370.5 183.5V189.5 M370.5 450.5V444.5 M370.5 317.5V323.5 M463.5 183.5V177.5 M463.5 50.5V56.5 M463.5 317.5V311.5 M463.5 183.5V189.5 M463.5 450.5V444.5 M463.5 317.5V323.5 M556.5 183.5V177.5 M556.5 50.5V56.5 M556.5 317.5V311.5 M556.5 183.5V189.5 M556.5 450.5V444.5 M556.5 317.5V323.5 M72.5 50.5H78.5 M584.5 50.5H578.5 M72.5 72.5H78.5 M584.5 72.5H578.5 M72.5 94.5H78.5 M584.5 94.5H578.5 M72.5 117.5H78.5 M584.5 117.5H578.5 M72.5 139.5H78.5 M584.5 139.5H578.5 M72.5 161.5H78.5 M584.5 161.5H578.5 M72.5 183.5H78.5 M584.5 183.5H578.5 M72.5 183.5H78.5 M584.5 183.5H578.5 M72.5 210.5H78.5 M584.5 210.5H578.5 M72.5 236.5H78.5 M584.5 236.5H578.5 M72.5 263.5H78.5 M584.5 263.5H578.5 M72.5 290.5H78.5 M584.5 290.5H578.5 M72.5 317.5H78.5 M584.5 317.5H578.5 M72.5 450.5H78.5 M584.5 450.5H578.5 M72.5 435.5H78.5 M584.5 435.5H578.5 M72.5 420.5H78.5 M584.5 420.5H578.5 M72.5 406.5H78.5 M584.5 406.5H578.5 M72.5 391.5H78.5 M584.5 391.5H578.5 M72.5 376.5H78.5 M584.5 376.5H578.5 M72.5 361.5H78.5 M584.5 361.5H578.5 M72.5 346.5H78.5 M584.5 346.5H578.5 M72.5 331.5H78.5 M584.5 331.5H578.5 "/>
</g>
<text transform="translate(64.00,188.5) scale(1.1600,1)" x="0" y="0" font-size="12.5" text-anchor="end">0</text>
<text transform="translate(64.00,166.33) scale(1.1600,1)" x="0" y="0" font-size="12.5" text-anchor="end">2000</text>
<text transform="translate(64.00,144.17) scale(1.1600,1)" x="0" y="0" font-size="12.5" text-anchor="end">4000</text>
<text transform="translate(64.00,122.0) scale(1.1600,1)" x="0" y="0" font-size="12.5" text-anchor="end">6000</text>
<text transform="translate(64.00,99.83) scale(1.1600,1)" x="0" y="0" font-size="12.5" text-anchor="end">8000</text>
<text transform="translate(64.00,77.67) scale(1.1600,1)" x="0" y="0" font-size="12.5" text-anchor="end">10000</text>
<text transform="translate(64.00,55.5) scale(1.1600,1)" x="0" y="0" font-size="12.5" text-anchor="end">12000</text>
<text transform="translate(64.00,322.5) scale(1.1600,1)" x="0" y="0" font-size="12.5" text-anchor="end">0</text>
<text transform="translate(64.00,295.7) scale(1.1600,1)" x="0" y="0" font-size="12.5" text-anchor="end">500</text>
<text transform="translate(64.00,268.9) scale(1.1600,1)" x="0" y="0" font-size="12.5" text-anchor="end">1000</text>
<text transform="translate(64.00,242.1) scale(1.1600,1)" x="0" y="0" font-size="12.5" text-anchor="end">1500</text>
<text transform="translate(64.00,215.3) scale(1.1600,1)" x="0" y="0" font-size="12.5" text-anchor="end">2000</text>
<text transform="translate(64.00,455.5) scale(1.1600,1)" x="0" y="0" font-size="12.5" text-anchor="end">40</text>
<text transform="translate(64.00,440.72) scale(1.1600,1)" x="0" y="0" font-size="12.5" text-anchor="end">60</text>
<text transform="translate(64.00,425.94) scale(1.1600,1)" x="0" y="0" font-size="12.5" text-anchor="end">80</text>
<text transform="translate(64.00,411.17) scale(1.1600,1)" x="0" y="0" font-size="12.5" text-anchor="end">100</text>
<text transform="translate(64.00,396.39) scale(1.1600,1)" x="0" y="0" font-size="12.5" text-anchor="end">120</text>
<text transform="translate(64.00,381.61) scale(1.1600,1)" x="0" y="0" font-size="12.5" text-anchor="end">140</text>
<text transform="translate(64.00,366.83) scale(1.1600,1)" x="0" y="0" font-size="12.5" text-anchor="end">160</text>
<text transform="translate(64.00,352.06) scale(1.1600,1)" x="0" y="0" font-size="12.5" text-anchor="end">180</text>
<text transform="translate(64.00,337.28) scale(1.1600,1)" x="0" y="0" font-size="12.5" text-anchor="end">200</text>
<text transform="translate(90.50,470) scale(1.1000,1)" x="0" y="0" font-size="12.5" text-anchor="middle">-200</text>
<text transform="translate(183.75,470) scale(1.1000,1)" x="0" y="0" font-size="12.5" text-anchor="middle">-100</text>
<text transform="translate(277.00,470) scale(1.1000,1)" x="0" y="0" font-size="12.5" text-anchor="middle">0</text>
<text transform="translate(370.25,470) scale(1.1000,1)" x="0" y="0" font-size="12.5" text-anchor="middle">100</text>
<text transform="translate(463.50,470) scale(1.1000,1)" x="0" y="0" font-size="12.5" text-anchor="middle">200</text>
<text transform="translate(556.75,470) scale(1.1000,1)" x="0" y="0" font-size="12.5" text-anchor="middle">300</text>
<text transform="translate(123.97,33) scale(1.0269,1)" x="0" y="0" font-size="12.5">KONUS-WIND S2 GRB 250531 T</text>
<text transform="translate(317.0,34.6) scale(1.1,1)" x="0" y="0" font-size="10.6">0</text>
<text transform="translate(328.00,33) scale(1.1294,1)" x="0" y="0" font-size="12.5">= 29781.376s UT (08:16:21.376)</text>
<text transform="translate(304.70,492) scale(1.0000,1)" x="0" y="0" font-size="12.5">T - T</text>
<text transform="translate(331.0,495.0) scale(1.0,1)" x="0" y="0" font-size="10.6">0</text>
<text transform="translate(338.57,492) scale(0.9333,1)" x="0" y="0" font-size="12.5">, s</text>
<text transform="translate(15,250) rotate(-90) scale(1.116,1)" x="0" y="0" font-size="12.5" text-anchor="middle">counts / 1024 ms</text>
<text transform="translate(517.20,69) scale(1.0789,1)" x="0" y="0" font-size="12.5">21-81 keV</text>
<text transform="translate(510.00,202) scale(1.0750,1)" x="0" y="0" font-size="12.5">81-323 keV</text>
<text transform="translate(492.49,335) scale(1.1091,1)" x="0" y="0" font-size="12.5">323-1222 keV</text>
</svg></body></html>
